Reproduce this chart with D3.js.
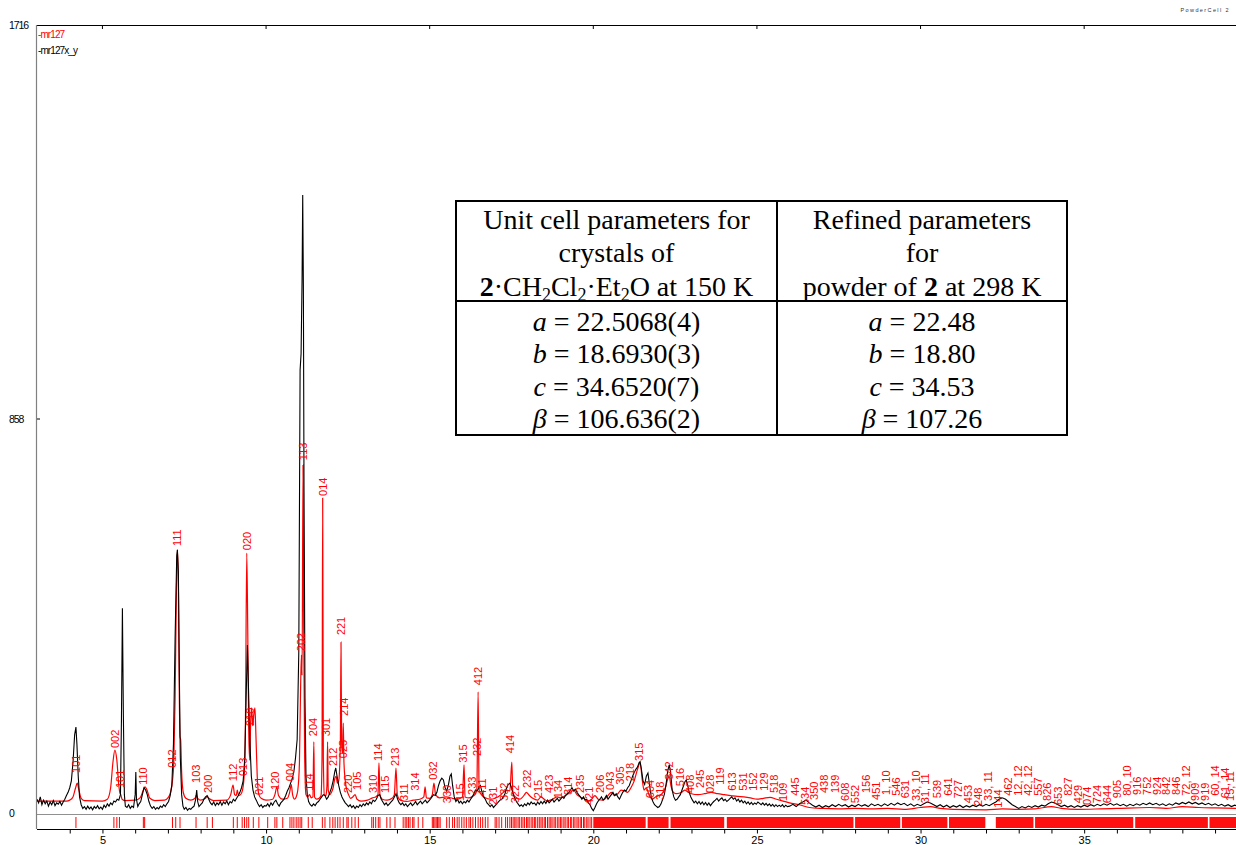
<!DOCTYPE html>
<html><head><meta charset="utf-8">
<script src="https://cdn.jsdelivr.net/npm/d3@7"></script>
<style>html,body{margin:0;padding:0;background:#fff;}svg{display:block;}</style>
</head><body>
<script>
// ---------------- DATA ----------------
const xTicksMajor = [5, 10, 15, 20, 25, 30, 35];
const yTickLabels = [0, 858, 1716];
const seriesNames = ["mr127", "mr127x_y"];

// experimental pattern (black): [2theta, counts]
const expPattern = [
[3.0,30],[3.05,22],[3.1,35],[3.15,18],[3.2,28],[3.25,20],[3.3,26],[3.35,15],[3.4,24],[3.45,18],[3.5,27],[3.55,16],[3.6,22],[3.65,19],[3.7,25],[3.75,17],[3.8,24],[3.85,30],[3.9,38],[3.95,45],
[4.0,55],[4.05,70],[4.1,110],[4.15,170],[4.19,187],[4.22,150],[4.26,80],[4.3,35],[4.35,18],[4.4,10],[4.45,14],[4.5,8],[4.55,15],[4.6,9],[4.65,13],[4.7,7],[4.75,14],[4.8,10],[4.85,16],[4.9,9],[4.95,13],
[5.0,8],[5.05,17],[5.1,12],[5.15,20],[5.2,15],[5.25,22],[5.3,18],[5.35,26],[5.4,24],[5.45,30],[5.5,28],[5.55,40],[5.58,200],[5.61,446],[5.64,210],[5.67,40],[5.7,15],[5.75,12],[5.8,18],[5.85,10],[5.9,15],[5.95,12],
[6.0,40],[6.02,89],[6.04,30],[6.08,14],[6.12,20],[6.17,25],[6.22,40],[6.27,55],[6.32,50],[6.37,40],[6.42,25],[6.47,15],[6.52,10],[6.57,14],[6.62,8],[6.67,12],[6.72,9],[6.77,15],[6.82,12],[6.87,18],[6.92,14],[6.97,20],
[7.02,25],[7.07,38],[7.12,60],[7.17,150],[7.22,380],[7.27,560],[7.29,573],[7.32,525],[7.35,300],[7.38,120],[7.42,40],[7.46,15],[7.5,8],[7.55,12],[7.6,6],[7.65,10],[7.7,8],[7.75,12],[7.8,15],[7.85,30],[7.88,50],[7.91,25],[7.95,14],
[8.0,18],[8.05,22],[8.1,30],[8.15,35],[8.2,38],[8.25,30],[8.3,22],[8.35,18],[8.4,24],[8.45,16],[8.5,22],[8.55,18],[8.6,25],[8.65,17],[8.7,24],[8.75,20],[8.8,26],[8.85,18],[8.9,25],[8.95,22],
[9.0,30],[9.05,26],[9.1,32],[9.15,38],[9.2,45],[9.25,55],[9.3,70],[9.35,120],[9.39,250],[9.43,366],[9.46,280],[9.5,165],[9.55,80],[9.6,50],[9.65,35],[9.7,28],[9.75,20],[9.8,14],[9.85,18],[9.9,12],[9.95,16],
[10.0,15],[10.05,20],[10.1,14],[10.15,22],[10.2,17],[10.25,24],[10.3,28],[10.35,20],[10.4,15],[10.45,22],[10.5,26],[10.55,30],[10.6,38],[10.65,48],[10.7,55],[10.75,65],[10.8,75],[10.85,90],[10.9,120],[10.95,160],
[11.0,350],[11.04,965],[11.07,1000],[11.1,1161],[11.12,1346],[11.14,1150],[11.16,700],[11.19,250],[11.22,80],[11.26,40],[11.3,25],[11.35,18],[11.4,15],[11.45,20],[11.5,16],[11.55,22],[11.6,25],[11.65,30],[11.7,35],[11.75,40],[11.8,38],[11.85,30],[11.9,35],[11.95,45],
[12.0,55],[12.05,70],[12.1,90],[12.13,98],[12.17,80],[12.22,60],[12.27,45],[12.32,35],[12.37,28],[12.42,22],[12.47,18],[12.52,14],[12.57,18],[12.62,12],[12.67,16],[12.72,10],[12.77,15],[12.82,12],[12.87,18],[12.92,14],[12.97,20],
[13.02,16],[13.07,22],[13.12,18],[13.17,24],[13.22,20],[13.27,28],[13.32,25],[13.37,30],[13.42,38],[13.47,40],[13.52,30],[13.57,24],[13.62,18],[13.67,22],[13.72,16],[13.77,20],[13.82,24],[13.87,28],[13.92,35],[13.97,42],
[14.02,30],[14.07,22],[14.12,18],[14.17,22],[14.22,16],[14.27,20],[14.32,14],[14.37,18],[14.42,22],[14.47,16],[14.52,20],[14.57,25],[14.62,18],[14.67,22],[14.72,26],[14.77,20],[14.82,24],[14.87,28],[14.92,22],[14.97,26],
[15.02,30],[15.07,35],[15.12,40],[15.17,38],[15.22,45],[15.27,60],[15.32,70],[15.37,76],[15.42,72],[15.47,55],[15.52,48],[15.57,60],[15.62,80],[15.66,85],[15.7,60],[15.75,35],[15.8,25],[15.85,30],[15.9,22],[15.95,26],
[16.0,20],[16.05,25],[16.1,22],[16.15,28],[16.2,24],[16.25,30],[16.3,35],[16.35,42],[16.4,50],[16.45,48],[16.5,55],[16.55,60],[16.6,45],[16.65,35],[16.7,30],[16.75,22],[16.8,18],[16.85,14],[16.9,18],[16.95,12],
[17.0,16],[17.05,20],[17.1,24],[17.15,28],[17.2,30],[17.25,35],[17.3,42],[17.35,55],[17.4,62],[17.45,65],[17.5,55],[17.55,40],[17.6,32],[17.65,25],[17.7,20],[17.75,15],[17.8,18],[17.85,14],[17.9,20],[17.95,16],
[18.0,22],[18.05,18],[18.1,24],[18.15,20],[18.2,22],[18.25,17],[18.3,24],[18.35,19],[18.4,25],[18.45,20],[18.5,26],[18.55,21],[18.6,28],[18.65,22],[18.7,26],[18.75,30],[18.8,24],[18.85,28],[18.9,32],[18.95,26],
[19.0,30],[19.05,35],[19.1,32],[19.15,38],[19.2,42],[19.25,45],[19.3,50],[19.35,55],[19.4,48],[19.45,52],[19.5,45],[19.55,40],[19.6,36],[19.65,30],[19.7,35],[19.75,28],[19.8,30],[19.85,22],[19.9,18],[19.95,10],
[20.0,5],[20.05,12],[20.1,20],[20.15,26],[20.2,30],[20.25,35],[20.3,28],[20.35,32],[20.4,38],[20.45,30],[20.5,35],[20.55,40],[20.6,45],[20.65,38],[20.7,42],[20.75,35],[20.8,30],[20.85,38],[20.9,45],[20.95,50],
[21.0,48],[21.05,55],[21.1,60],[21.15,70],[21.2,80],[21.25,88],[21.3,95],[21.35,100],[21.4,110],[21.43,112],[21.47,95],[21.52,70],[21.57,62],[21.62,80],[21.67,87],[21.72,60],[21.77,35],[21.82,25],[21.87,18],[21.92,15],[21.97,12],
[22.02,14],[22.07,20],[22.12,30],[22.17,40],[22.22,60],[22.27,90],[22.32,105],[22.36,90],[22.41,50],[22.46,35],[22.51,28],[22.56,30],[22.61,35],[22.66,40],[22.71,50],[22.76,60],[22.8,68],[22.84,72],[22.88,62],[22.93,45],[22.98,35],
[23.03,28],[23.08,22],[23.13,26],[23.18,20],[23.23,25],[23.28,19],[23.33,24],[23.38,18],[23.43,23],[23.48,17],[23.53,22],[23.58,16],[23.63,21],[23.68,25],[23.73,28],[23.78,32],[23.83,26],[23.88,30],[23.93,33],[23.98,27],
[24.03,30],[24.08,25],[24.13,28],[24.18,32],[24.23,35],[24.28,30],[24.33,33],[24.38,26],[24.43,30],[24.48,24],[24.53,28],[24.58,22],[24.63,26],[24.68,20],[24.73,24],[24.78,19],[24.83,23],[24.88,18],[24.93,22],[24.98,19],
[25.03,24],[25.08,21],[25.13,18],[25.18,22],[25.23,17],[25.28,21],[25.33,16],[25.38,20],[25.43,15],[25.48,19],[25.53,14],[25.58,18],[25.63,14],[25.68,17],[25.73,14],[25.78,18],[25.83,13],[25.88,17],[25.93,14],
[26.0,15],[26.1,19],[26.2,14],[26.3,20],[26.4,24],[26.5,28],[26.6,22],[26.7,17],[26.8,13],[26.9,17],[27.0,12],[27.1,16],[27.2,13],[27.3,18],[27.4,14],[27.5,19],[27.6,15],[27.7,18],[27.8,13],[27.9,17],
[28.0,14],[28.1,19],[28.2,15],[28.3,18],[28.4,14],[28.5,20],[28.6,16],[28.7,19],[28.8,15],[28.9,20],[29.0,16],[29.1,21],[29.2,17],[29.3,22],[29.4,18],[29.5,21],[29.6,16],[29.7,20],[29.8,15],[29.9,19],
[30.0,16],[30.1,20],[30.2,24],[30.3,22],[30.4,18],[30.5,14],[30.6,18],[30.7,13],[30.8,17],[30.9,12],[31.0,16],[31.1,13],[31.2,17],[31.3,12],[31.4,16],[31.5,13],[31.6,17],[31.7,14],[31.8,18],[31.9,15],
[32.0,19],[32.1,16],[32.2,20],[32.3,24],[32.4,30],[32.5,33],[32.6,30],[32.7,24],[32.8,18],[32.9,14],[33.0,10],[33.1,14],[33.2,11],[33.3,15],[33.4,12],[33.5,16],[33.6,13],[33.7,17],[33.8,15],[33.9,20],
[34.0,24],[34.1,22],[34.2,18],[34.3,14],[34.4,17],[34.5,13],[34.6,16],[34.7,12],[34.8,16],[34.9,13],[35.0,17],[35.1,14],[35.2,18],[35.3,15],[35.4,19],[35.5,16],[35.6,20],[35.7,17],[35.8,21],[35.9,17],
[36.0,20],[36.1,16],[36.2,19],[36.3,15],[36.4,19],[36.5,16],[36.6,20],[36.7,17],[36.8,21],[36.9,18],[37.0,22],[37.1,18],[37.2,21],[37.3,17],[37.4,20],[37.5,16],[37.6,20],[37.7,17],[37.8,22],[37.9,19],
[38.0,23],[38.1,20],[38.2,24],[38.3,20],[38.4,23],[38.5,19],[38.6,22],[38.7,18],[38.8,21],[38.9,17],[39.0,20],[39.1,16],[39.2,19],[39.3,15],[39.4,18],[39.5,14],[39.6,17],[39.7,15]
];

// calculated pattern (red): [2theta, counts]
const calcPattern = [
[3.0,26],[3.9,26],[4.0,28],[4.1,35],[4.18,55],[4.23,65],[4.28,50],[4.35,32],[4.45,27],[5.0,26],[5.15,30],[5.25,55],[5.32,110],[5.38,137],[5.44,115],[5.5,60],[5.53,45],[5.56,40],[5.6,30],[5.7,27],
[6.0,28],[6.15,33],[6.25,50],[6.3,57],[6.35,52],[6.45,32],[6.6,27],[6.9,28],[7.0,33],[7.08,45],[7.14,70],[7.18,110],[7.22,250],[7.26,480],[7.29,573],[7.32,500],[7.35,250],[7.37,166],[7.39,160],[7.42,90],[7.47,45],[7.55,32],[7.7,28],
[7.83,32],[7.87,39],[7.91,32],[8.0,28],[8.15,32],[8.2,36],[8.25,32],[8.4,27],[8.8,28],[8.92,40],[8.99,61],[9.04,40],[9.09,38],[9.12,50],[9.16,38],[9.22,40],[9.28,50],[9.33,80],[9.37,200],[9.41,566],[9.44,400],[9.47,180],[9.5,115],
[9.53,200],[9.56,229],[9.59,190],[9.62,210],[9.66,229],[9.69,170],[9.73,80],[9.78,40],[9.85,32],[10.0,28],[10.2,30],[10.27,40],[10.33,57],[10.38,38],[10.5,30],[10.65,32],[10.72,45],[10.77,62],[10.81,40],[10.87,30],[10.92,35],[10.97,50],
[11.02,110],[11.05,250],[11.08,344],[11.1,300],[11.13,758],[11.15,400],[11.18,120],[11.22,40],[11.27,35],[11.33,40],[11.38,33],[11.43,35],[11.46,155],[11.48,35],[11.55,30],[11.62,32],[11.68,38],[11.71,120],[11.73,686],[11.75,120],[11.78,40],
[11.83,38],[11.86,60],[11.88,155],[11.9,50],[11.95,40],[12.0,45],[12.05,55],[12.1,75],[12.14,80],[12.18,65],[12.22,70],[12.27,150],[12.29,372],[12.31,150],[12.34,130],[12.36,196],[12.38,110],[12.42,70],[12.47,50],[12.52,40],[12.58,32],
[12.65,35],[12.72,40],[12.78,30],[12.9,26],[13.1,28],[13.25,33],[13.35,35],[13.42,40],[13.45,109],[13.48,40],[13.55,30],[13.7,28],[13.85,32],[13.92,40],[13.97,98],[14.01,40],[14.1,28],[14.3,25],[14.5,28],[14.7,30],[14.82,35],[14.86,57],
[14.9,33],[15.0,32],[15.08,40],[15.13,65],[15.18,40],[15.3,33],[15.5,35],[15.7,32],[15.85,30],[16.0,35],[16.05,105],[16.08,35],[16.2,33],[16.3,36],[16.38,40],[16.44,50],[16.48,264],[16.51,50],[16.58,40],[16.7,33],[16.85,30],
[17.0,32],[17.15,38],[17.25,45],[17.35,50],[17.45,48],[17.51,111],[17.54,45],[17.62,35],[17.75,30],[17.9,40],[17.95,45],[18.05,38],[18.15,32],[18.3,28],[18.4,35],[18.5,30],[18.6,26],[18.75,30],[18.9,35],[19.0,33],[19.15,38],
[19.3,45],[19.4,50],[19.5,40],[19.6,35],[19.75,30],[19.85,26],[19.95,30],[20.05,38],[20.15,30],[20.3,28],[20.45,38],[20.55,45],[20.65,38],[20.75,42],[20.85,50],[20.95,48],[21.05,45],[21.15,55],[21.25,70],[21.35,95],[21.43,109],
[21.5,70],[21.55,50],[21.62,55],[21.7,40],[21.8,30],[21.9,35],[22.0,38],[22.1,42],[22.2,55],[22.28,75],[22.32,80],[22.37,60],[22.45,45],[22.55,42],[22.7,45],[22.8,50],[22.9,45],[23.0,42],[23.2,40],[23.4,42],[23.6,45],[23.8,42],
[24.0,40],[24.2,38],[24.4,36],[24.6,35],[24.8,33],[25.0,30],[25.2,32],[25.4,34],[25.6,30],[25.8,26],[26.0,22],[26.3,18],[26.6,12],[27.0,10],[27.5,9],[28.0,10],[28.5,9],[29.0,10],[29.5,8],[30.0,12],[30.3,14],[30.6,10],
[31.0,8],[32.0,7],[32.5,9],[33.0,8],[33.5,9],[34.0,14],[34.3,10],[34.8,8],[35.5,9],[36.0,10],[37.0,12],[37.5,10],[38.0,14],[38.5,12],[39.0,11],[39.7,10]
];

// reflection positions (individual ticks) and dense ranges
const reflTicks = [4.19,5.35,5.44,5.52,6.25,6.29,7.14,7.24,7.37,7.86,8.20,8.36,9.00,9.12,9.27,9.34,9.41,9.47,9.61,9.78,10.05,10.27,10.33,10.51,
10.73,10.79,10.85,10.92,10.98,11.04,11.09,11.29,11.41,11.72,11.80,11.95,12.04,12.11,12.19,12.26,12.36,12.47,12.51,12.62,12.72,12.82,
13.23,13.28,13.35,13.43,13.48,13.69,13.79,13.94,14.19,14.25,14.30,14.35,14.40,14.48,14.52,14.65,14.79,15.08,15.12,15.16,15.20,15.24,15.28,15.32,
15.52,15.60,15.70,15.76,15.84,15.90,15.98,16.05,16.12,16.20,16.25,16.32,16.40,16.48,16.55,16.62,16.70,16.78,17.00,17.05,17.12,17.20,17.32,17.38,
17.45,17.50,17.55,17.60,17.64,17.70,17.74,17.80,17.85,17.90,17.96,18.00,18.04,18.10,18.15,18.20,18.24,18.30,18.35,18.40,18.44,18.50,18.54,18.60,
18.65,18.70,18.74,18.80,18.84,18.90,18.95,19.00,19.04,19.10,19.14,19.20,19.24,19.30,19.34,19.40,19.44,19.50,19.54,19.60,19.64,19.70,19.74,19.80,19.84,19.90,19.95];
const reflBands = [[20.0,21.6],[21.66,22.3],[22.36,24.0],[24.08,27.95],[28.0,29.38],[29.43,30.82],[30.87,31.98],[32.3,33.45],[33.5,36.5],[36.56,38.78],[38.83,39.7]];

// hkl labels: position (2theta), text, intensity at label foot
const hklPos = [4.21,5.38,5.54,6.24,7.12,7.27,7.86,8.23,8.99,9.30,9.41,9.51,9.78,10.27,10.73,11.06,11.12,11.31,11.43,11.73,11.85,12.05,12.29,12.35,12.38,12.50,12.78,
13.26,13.44,13.64,13.94,14.22,14.55,15.10,15.52,15.93,16.02,16.29,16.45,16.48,16.59,16.94,17.27,17.46,17.61,17.98,18.32,18.65,18.92,19.23,19.60,19.87,
20.21,20.51,20.82,21.14,21.40,21.74,22.04,22.32,22.65,22.96,23.26,23.57,23.87,24.23,24.57,24.88,25.22,25.52,25.80,26.17,26.47,26.75,27.05,27.39,27.69,
28.00,28.34,28.64,28.95,29.25,29.53,29.86,30.14,30.51,30.84,31.15,31.45,31.76,32.06,32.37,32.68,32.98,33.29,33.59,33.87,34.20,34.51,34.82,35.09,35.40,
35.70,36.01,36.31,36.62,36.92,37.23,37.50,37.81,38.12,38.39,38.70,39.00,39.31,39.46];
const hklText = ["101","002","101","110","012","111","103","200","112","013","020","210","021","120","004","202","113","114","204","014","301","212","221","023","214","220","105",
"310","114","115","213","311","314","032","330","115","315","233","232","412","411","231","332","414","322","232","215","423","134","314","235","421",
"206","043","305","218","315","604","318","342","516","408","245","028","119","613","531","152","129","518","109","445","534","350","438","139","608",
"552","156","451","1, 10","546","631","33, 10","31, 11","539","641","727","453","248","33, 11","144","462","12, 12","42, 12","557","826","653","827","429","074","724",
"644","905","80, 10","916","752","924","842","846","72, 12","909","919","60, 14","61, 14","15, 11"];
const hklInt = [83,137,50,57,94,577,61,39,65,76,568,185,35,46,65,348,764,44,163,686,163,98,383,115,207,39,46,
39,109,39,98,22,44,68,17,22,105,35,120,274,33,13,22,126,17,50,28,39,28,35,39,13,
39,46,57,65,109,28,24,68,54,39,50,39,57,44,44,44,44,39,22,33,13,24,39,39,22,
17,39,24,35,33,28,22,17,28,33,28,17,11,22,7,33,33,33,33,22,13,33,17,13,17,
17,28,33,35,35,35,35,35,33,22,22,33,28,22];

// table text
const tableHead1 = ["Unit cell parameters for", "crystals of"];
const tableHead2 = ["Refined parameters", "for"];
const paramSymbols = ["a", "b", "c", "β"];
const crystalValues = ["22.5068(4)", "18.6930(3)", "34.6520(7)", "106.636(2)"];
const powderValues = ["22.48", "18.80", "34.53", "107.26"];

// ---------------- DRAW ----------------
(function () {
const W = 1236, H = 845;
const svg = d3.select("body").append("svg").attr("width", W).attr("height", H)
  .style("font-family", "'Liberation Sans', Arial, sans-serif");

const pL = 37, pR = 1236, pT = 25, zeroY = 813;
const x = d3.scaleLinear().domain([3, 39.64]).range([pL, pR]);
const y = d3.scaleLinear().domain([0, 1716]).range([zeroY, pT]);

svg.append("defs").append("clipPath").attr("id", "plotclip")
  .append("rect").attr("x", pL).attr("y", pT).attr("width", pR - pL).attr("height", zeroY - pT + 2);

// frame
svg.append("line").attr("x1", pL).attr("x2", pR).attr("y1", pT + 0.5).attr("y2", pT + 0.5).attr("stroke", "#000").attr("stroke-width", 1);
svg.append("line").attr("x1", pL - 0.5).attr("x2", pL - 0.5).attr("y1", pT).attr("y2", 829).attr("stroke", "#808080").attr("stroke-width", 1.2);
svg.append("line").attr("x1", pL).attr("x2", pR).attr("y1", 814.5).attr("y2", 814.5).attr("stroke", "#909090").attr("stroke-width", 1.2);
svg.append("line").attr("x1", pL).attr("x2", pR).attr("y1", 829.5).attr("y2", 829.5).attr("stroke", "#000").attr("stroke-width", 1);

// top ticks at majors
svg.selectAll(".ttick").data(xTicksMajor).join("line")
  .attr("x1", d => x(d)).attr("x2", d => x(d)).attr("y1", pT).attr("y2", pT + 4)
  .attr("stroke", "#000");

// bottom axis with ticks every degree
const xAxis = d3.axisBottom(x).tickValues(d3.range(4, 40, 1)).tickSize(4)
  .tickFormat(d => xTicksMajor.includes(d) ? d : "");
const gx = svg.append("g").attr("transform", "translate(0,829.5)").call(xAxis);
gx.select(".domain").remove();
gx.selectAll("text").attr("font-size", 11).attr("font-family", "'Liberation Sans', Arial, sans-serif")
  .attr("y", 14).attr("dy", 0).attr("fill", "#000");
gx.selectAll("line").attr("stroke", "#000");

// y labels
svg.selectAll(".ylab").data(yTickLabels).join("text")
  .attr("x", 9).attr("y", d => y(d)).attr("dy", "0.35em")
  .attr("font-size", 10.5).attr("letter-spacing", -1.1).attr("fill", "#000")
  .text(d => d);
svg.append("line").attr("x1", pL).attr("x2", pL + 3).attr("y1", y(858)).attr("y2", y(858)).attr("stroke", "#000");

// PowderCell tag
svg.append("text").attr("x", 1230).attr("y", 12).attr("text-anchor", "end").attr("font-size", 5.5).attr("letter-spacing", 1.4).attr("fill", "#333").text("PowderCell 2");

// legend
const legColors = ["#ff0000", "#000000"];
svg.selectAll(".leg").data(seriesNames).join("text")
  .attr("x", 38).attr("y", (d, i) => 38 + i * 16)
  .attr("font-size", 10).attr("letter-spacing", -0.9)
  .attr("fill", (d, i) => legColors[i]).text(d => "-" + d);

// reflection tick stripe
svg.append("g").selectAll("line").data(reflTicks).join("line")
  .attr("x1", d => x(d)).attr("x2", d => x(d)).attr("y1", 817).attr("y2", 828)
  .attr("stroke", "#ff0000").attr("stroke-width", 1);
svg.append("g").selectAll("rect").data(reflBands).join("rect")
  .attr("x", d => x(d[0])).attr("width", d => Math.max(1, x(d[1]) - x(d[0])))
  .attr("y", 817).attr("height", 11).attr("fill", "#ff1010");

// curves
const plot = svg.append("g").attr("clip-path", "url(#plotclip)");
const lineCalc = d3.line().x(d => x(d[0])).y(d => y(d[1])).curve(d3.curveMonotoneX);
const lineExp = d3.line().x(d => x(d[0])).y(d => y(d[1]));
plot.append("path").datum(calcPattern).attr("d", lineCalc).attr("fill", "none").attr("stroke", "#ff0000").attr("stroke-width", 1.2);
plot.append("path").datum(expPattern).attr("d", lineExp).attr("fill", "none").attr("stroke", "#000").attr("stroke-width", 1.1);

// hkl labels
const labels = hklPos.map((p, i) => ({p, t: hklText[i], v: hklInt[i]}));
svg.append("g").selectAll("text").data(labels).join("text")
  .attr("transform", d => `translate(${x(d.p)},${y(d.v) - 2}) rotate(-90)`)
  .attr("dy", "0.35em").attr("font-size", 11).attr("fill", "#ff0000")
  .text(d => d.t);

// table
const tx0 = 456, tx1 = 1067, tmid = 777, ty0 = 201, ty1 = 435, tyh = 301;
const serif = "'Liberation Serif', 'Times New Roman', serif";
const tg = svg.append("g");
tg.append("rect").attr("x", tx0).attr("y", ty0).attr("width", tx1 - tx0).attr("height", ty1 - ty0).attr("fill", "#fff").attr("stroke", "#000").attr("stroke-width", 2);
tg.append("line").attr("x1", tmid).attr("x2", tmid).attr("y1", ty0).attr("y2", ty1).attr("stroke", "#000").attr("stroke-width", 2);
tg.append("line").attr("x1", tx0).attr("x2", tx1).attr("y1", tyh).attr("y2", tyh).attr("stroke", "#000").attr("stroke-width", 2);
const c1 = (tx0 + tmid) / 2, c2 = (tmid + tx1) / 2;
const headBase = [229, 262, 296];
const tt = (xx, yy) => tg.append("text").attr("x", xx).attr("y", yy).attr("text-anchor", "middle")
  .attr("font-family", serif).attr("font-size", 28).attr("fill", "#000");
const ts = (sel, txt) => sel.append("tspan").attr("font-family", serif).text(txt);
tableHead1.forEach((t, i) => tt(c1, headBase[i]).text(t));
tableHead2.forEach((t, i) => tt(c2, headBase[i]).text(t));
const f = tt(c1, headBase[2]);
ts(f, "2").attr("font-weight", "bold");
ts(f, "·CH");
ts(f, "2").attr("font-size", 18).attr("dy", 5);
ts(f, "Cl").attr("dy", -5);
ts(f, "2").attr("font-size", 18).attr("dy", 5);
ts(f, "·Et").attr("dy", -5);
ts(f, "2").attr("font-size", 18).attr("dy", 5);
ts(f, "O at 150 K").attr("dy", -5);
const g2 = tt(c2, headBase[2]);
ts(g2, "powder of ");
ts(g2, "2").attr("font-weight", "bold");
ts(g2, " at 298 K");
const rowBase = [331, 363, 396, 428];
paramSymbols.forEach((s, i) => {
  const a = tt(c1, rowBase[i]);
  ts(a, s).attr("font-style", "italic");
  ts(a, " = " + crystalValues[i]);
  const b = tt(c2, rowBase[i]);
  ts(b, s).attr("font-style", "italic");
  ts(b, " = " + powderValues[i]);
});
})();
</script>
</body></html>
